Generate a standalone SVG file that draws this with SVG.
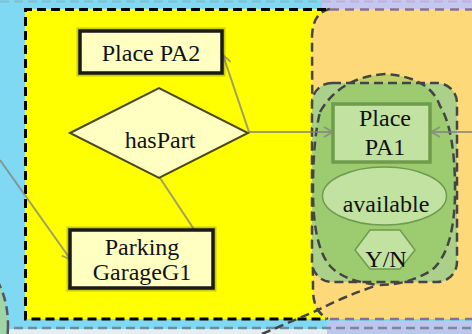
<svg xmlns="http://www.w3.org/2000/svg" width="472" height="334" viewBox="0 0 472 334">
  <defs>
    <style>
      .lbl { font-family: 'Liberation Serif', Tinos, 'Times New Roman', 'DejaVu Serif', serif; font-size: 24px; fill: #111; text-anchor: middle; }
      .box { fill: #ffffc2; stroke: #1a1a1a; stroke-width: 3.5; }
      .halo { fill: none; stroke: #6b6b20; stroke-width: 7; opacity: 0.35; }
      .conn { fill: none; stroke: #808080; stroke-width: 2; opacity: 0.75; }
      .dash { fill: none; stroke: #444; stroke-width: 2.5; stroke-dasharray: 9 5; }
      .gnode { fill: #c2e2a2; stroke: #6e9c4c; }
    </style>
    <marker id="arr" markerWidth="12" markerHeight="12" refX="10" refY="6" orient="auto" markerUnits="userSpaceOnUse">
      <path d="M1,1 L10,6 L1,11" fill="none" stroke="#808080" stroke-width="1.8"/>
    </marker>
  </defs>

  <!-- background regions -->
  <rect x="0" y="0" width="472" height="334" fill="#80d9f2"/>
  <rect x="322" y="0" width="150" height="9" fill="#c4c8f0"/>
  <line x1="0" y1="1.5" x2="322" y2="1.5" stroke="#8aa0b0" stroke-width="2" stroke-dasharray="9 5" opacity="0.5"/>
  <line x1="322" y1="1.5" x2="472" y2="1.5" stroke="#c0a0c8" stroke-width="2" stroke-dasharray="9 5" opacity="0.6"/>
  <rect x="0" y="329" width="330" height="5" fill="#e6eef2"/>
  <rect x="327" y="321" width="145" height="13" fill="#bcc6ee"/>
  <line x1="0" y1="328" x2="472" y2="328" stroke="#6a7a86" stroke-width="2.5" stroke-dasharray="9 5" opacity="0.8"/>
  <ellipse cx="-28" cy="325" rx="36" ry="62" fill="#9fd6a6" stroke="#556" stroke-width="2.5" stroke-dasharray="9 5"/>

  <!-- yellow region -->
  <rect x="25" y="9" width="305" height="310" fill="#ffff00"/>
  <!-- orange region -->
  <path d="M 336 9 L 472 9 L 472 319 L 330 319 Q 313 317 313 292 L 312 36 Q 313 10 336 9 Z" fill="#fdd97a"/>
  <path d="M 330 9 Q 313 12 312 36 L 313 292 Q 314 312 328 319" class="dash"/>
  <line x1="330" y1="9.5" x2="472" y2="9.5" stroke="#8a7090" stroke-width="2.5" stroke-dasharray="9 6"/>
  <line x1="330" y1="319" x2="472" y2="319" stroke="#8a7090" stroke-width="2.5" stroke-dasharray="9 6"/>
  <!-- yellow region border -->
  <path d="M 326 9.5 L 25.5 9.5 L 25.5 319 L 326 319" fill="none" stroke="#000" stroke-width="3" stroke-dasharray="9 5"/>

  <!-- green container -->
  <g id="container-PA1">
    <rect x="312" y="83" width="145" height="199" rx="20" fill="#abd08a"/>
    <path d="M 320 112 Q 340 77 385 74 Q 430 77 440 106 Q 455 130 455 190 Q 455 250 432 270 Q 408 285 380 285 Q 345 282 330 266 Q 313 246 313 190 Q 313 140 320 112 Z" fill="#95c95f" fill-opacity="0.6"/>
    <rect x="312" y="83" width="145" height="199" rx="20" class="dash"/>
    <path d="M 320 112 Q 340 77 385 74 Q 430 77 440 106 Q 455 130 455 190 Q 455 250 432 270 Q 408 285 380 285 Q 345 282 330 266 Q 313 246 313 190 Q 313 140 320 112 Z" class="dash"/>
  </g>
  <path d="M 262 334 Q 295 320 318 310 Q 345 296 378 285" class="dash"/>

  <!-- connectors -->
  <g id="connectors">
    <line x1="249" y1="132" x2="223" y2="55" class="conn" marker-end="url(#arr)"/>
    <line x1="249" y1="132" x2="333" y2="132" class="conn" marker-end="url(#arr)"/>
    <line x1="160" y1="178" x2="213" y2="258" class="conn"/>
    <line x1="0" y1="160" x2="71" y2="260" class="conn" marker-end="url(#arr)"/>
    <line x1="472" y1="132" x2="431" y2="132" class="conn" marker-end="url(#arr)"/>
  </g>

  <g id="place-PA2">
    <rect x="80" y="31" width="142" height="42" class="halo"/>
    <rect x="80" y="31" width="142" height="42" class="box"/>
    <text x="151" y="61" class="lbl" font-family="Liberation Serif, serif">Place PA2</text>
  </g>

  <g id="hasPart">
    <polygon points="70,133 159,88 248,133 159,178" fill="#ffffc2" stroke="#4a4a1c" stroke-width="2"/>
    <text x="160" y="148" class="lbl" font-family="Liberation Serif, serif">hasPart</text>
  </g>

  <g id="parking-G1">
    <rect x="70" y="230" width="143" height="58" class="halo"/>
    <rect x="70" y="230" width="143" height="58" class="box"/>
    <text x="142" y="255" class="lbl" font-family="Liberation Serif, serif">Parking</text>
    <text x="142" y="280" class="lbl" font-family="Liberation Serif, serif">GarageG1</text>
  </g>

  <g id="place-PA1">
    <rect x="333" y="104" width="97" height="58" class="gnode" stroke-width="3.5"/>
    <text x="385" y="126" class="lbl" font-family="Liberation Serif, serif">Place</text>
    <text x="385" y="155" class="lbl" font-family="Liberation Serif, serif">PA1</text>
  </g>

  <g id="available">
    <ellipse cx="384.5" cy="196" rx="62" ry="29" class="gnode" stroke-width="1.5"/>
    <text x="386" y="212" class="lbl" font-family="Liberation Serif, serif">available</text>
  </g>

  <g id="yn">
    <polygon points="355,250 370,230 400,230 415,250 400,269 370,269" class="gnode" stroke-width="1.5"/>
    <text x="386" y="267" class="lbl" font-family="Liberation Serif, serif">Y/N</text>
  </g>
</svg>
